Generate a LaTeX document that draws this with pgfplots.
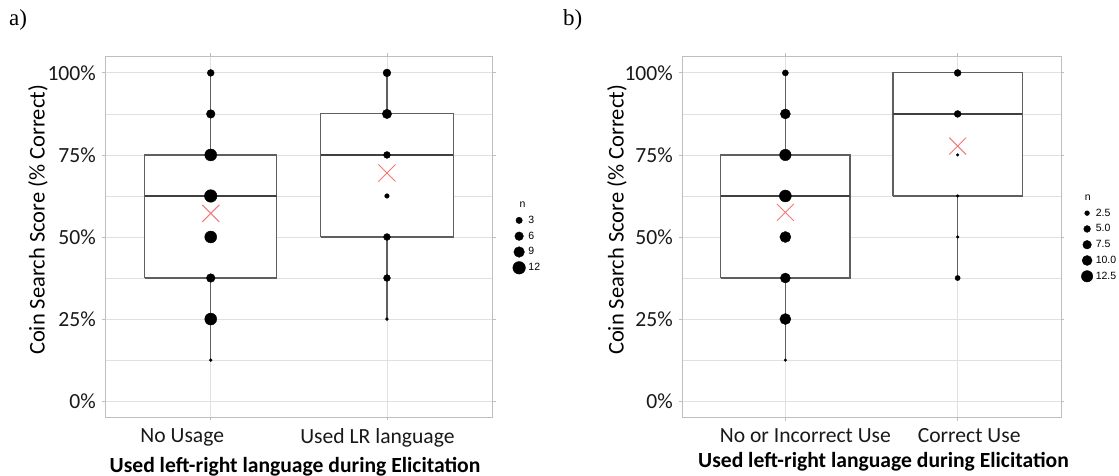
\documentclass[border=0pt]{standalone}
\usepackage{fontspec}
\setmainfont{Carlito}
\newfontfamily\legfont{Liberation Sans}
\newfontfamily\panfont{Liberation Serif}
\usepackage{pgfplots}
\pgfplotsset{compat=1.18}
\usepackage{pgfplotstable}

\definecolor{gridc}{RGB}{224,224,224}
\definecolor{borderc}{RGB}{190,190,190}
\definecolor{boxc}{RGB}{95,95,95}
\definecolor{meanc}{RGB}{244,120,120}

% panel a: points (x = group, y = score, n = count)
\pgfplotstableread{
x y n
1 12.5 1
1 25 11
1 37.5 6
1 50 11
1 62.5 12
1 75 11
1 87.5 6
1 100 4
2 25 1
2 37.5 4
2 50 4
2 62.5 2
2 75 4
2 87.5 7
2 100 5
}\dataA
\pgfplotstableread{
x y
1 57.2
2 69.5
}\meanA
% panel b
\pgfplotstableread{
x y n
1 12.5 1
1 25 12
1 37.5 10
1 50 12
1 62.5 14
1 75 13
1 87.5 10
1 100 4
2 37.5 3
2 50 1
2 62.5 1
2 75 1
2 87.5 5
2 100 5
}\dataB
\pgfplotstableread{
x y
1 57.5
2 77.7
}\meanB

\newcommand\bigfont{\fontsize{21.6bp}{25bp}\selectfont}
\newcommand\legsize{\legfont\fontsize{10.5bp}{12bp}\selectfont}

\pgfplotsset{
 panel/.style={
  scale only axis, height=361bp,
  xmin=0.4, xmax=2.6, ymin=-5, ymax=105,
  xtick={1,2}, ytick={0,25,50,75,100},
  minor ytick={12.5,37.5,62.5,87.5},
  yticklabels={0\%,25\%,50\%,75\%,100\%},
  grid=both,
  major grid style={draw=gridc, line width=0.9bp},
  minor grid style={draw=gridc, line width=0.6bp},
  axis line style={draw=borderc, line width=0.9bp},
  tick align=outside,
  major tick length=3bp, minor tick length=0bp,
  tick style={draw=borderc, line width=0.9bp},
  ticklabel style={font=\bigfont, text=black!90},
  yticklabel style={inner sep=0pt, anchor=east, xshift=-6bp},
  xticklabel style={inner sep=0pt, anchor=north, yshift=-8bp},
  clip=false,
  legend cell align=left,
  legend style={draw=none, fill=none, font=\legsize,
    row sep=3bp, column sep=1bp},
 },
 boxs/.style={draw=boxc, fill=white, line width=1.1bp, forget plot},
 whisk/.style={draw=boxc, line width=1.1bp, forget plot},
 med/.style={draw=black!75, line width=2bp, forget plot},
 meanmark/.style={only marks, mark=x, mark size=12bp, draw=meanc, forget plot,
  mark options={line width=1bp, draw=meanc}},
}

\begin{document}
\begin{tikzpicture}
\path[use as bounding box] (0,0) rectangle (1119bp,476bp);

% ---------- panel a ----------
\begin{axis}[panel, at={(105bp,58.5bp)}, anchor=south west, width=387.7bp,
  xticklabels={{No Usage\hspace*{57bp}},{Used LR language\hspace*{19bp}}},
  legend style={at={(1.038,0.609)}, anchor=north west}]
% group 1: whiskers, box, median
\addplot[whisk] coordinates {(1,12.5) (1,37.5)};
\addplot[whisk] coordinates {(1,75) (1,100)};
\addplot[boxs] coordinates {(0.625,37.5) (1.375,37.5) (1.375,75) (0.625,75) (0.625,37.5)};
\addplot[med] coordinates {(0.625,62.5) (1.375,62.5)};
% group 2
\addplot[whisk] coordinates {(2,25) (2,50)};
\addplot[whisk] coordinates {(2,87.5) (2,100)};
\addplot[boxs] coordinates {(1.625,50) (2.375,50) (2.375,87.5) (1.625,87.5) (1.625,50)};
\addplot[med] coordinates {(1.625,75) (2.375,75)};
% points sized by count
\addplot[scatter, only marks, mark=*, forget plot,
  scatter/use mapped color={draw=black, fill=black},
  visualization depends on={(-0.9+3.9*sqrt(\thisrow{n}))/2 \as \rad},
  scatter/@pre marker code/.append style={/tikz/mark size=\rad}]
  table[x=x, y=y] {\dataA};
\addplot[meanmark] table[x=x, y=y] {\meanA};
\addlegendimage{empty legend}\addlegendentry{\hspace*{-9bp}n}
\addlegendimage{only marks, mark=*, black, mark size=3.2bp}\addlegendentry{3}
\addlegendimage{only marks, mark=*, black, mark size=4.3bp}\addlegendentry{6}
\addlegendimage{only marks, mark=*, black, mark size=5.3bp}\addlegendentry{9}
\addlegendimage{only marks, mark=*, black, mark size=6.3bp}\addlegendentry{12}
\end{axis}

% ---------- panel b ----------
\begin{axis}[panel, at={(682bp,58.5bp)}, anchor=south west, width=379bp,
  xticklabels={{\hspace*{40bp}No or Incorrect Use},{\hspace*{23bp}Correct Use}},
  legend style={at={(1.038,0.629)}, anchor=north west}]
\addplot[whisk] coordinates {(1,12.5) (1,37.5)};
\addplot[whisk] coordinates {(1,75) (1,100)};
\addplot[boxs] coordinates {(0.625,37.5) (1.375,37.5) (1.375,75) (0.625,75) (0.625,37.5)};
\addplot[med] coordinates {(0.625,62.5) (1.375,62.5)};
\addplot[whisk] coordinates {(2,37.5) (2,62.5)};
\addplot[boxs] coordinates {(1.625,62.5) (2.375,62.5) (2.375,100) (1.625,100) (1.625,62.5)};
\addplot[med] coordinates {(1.625,87.5) (2.375,87.5)};
\addplot[scatter, only marks, mark=*, forget plot,
  scatter/use mapped color={draw=black, fill=black},
  visualization depends on={(-0.64+3.38*sqrt(\thisrow{n}))/2 \as \rad},
  scatter/@pre marker code/.append style={/tikz/mark size=\rad}]
  table[x=x, y=y] {\dataB};
\addplot[meanmark] table[x=x, y=y] {\meanB};
\addlegendimage{empty legend}\addlegendentry{\hspace*{-13bp}n}
\addlegendimage{only marks, mark=*, black, mark size=2.4bp}\addlegendentry{2.5}
\addlegendimage{only marks, mark=*, black, mark size=3.4bp}\addlegendentry{5.0}
\addlegendimage{only marks, mark=*, black, mark size=4.3bp}\addlegendentry{7.5}
\addlegendimage{only marks, mark=*, black, mark size=5.0bp}\addlegendentry{10.0}
\addlegendimage{only marks, mark=*, black, mark size=5.7bp}\addlegendentry{12.5}
\end{axis}

% ---------- titles ----------
\node[anchor=west, inner sep=0pt, font=\panfont\fontsize{23bp}{26bp}\selectfont] at (9bp,456bp) {a)};
\node[anchor=west, inner sep=0pt, font=\panfont\fontsize{23bp}{26bp}\selectfont] at (563bp,456bp) {b)};
\node[rotate=90, inner sep=0pt, font=\fontsize{22.5bp}{26bp}\selectfont] at (38bp,256bp) {Coin Search Score (\% Correct)};
\node[rotate=90, inner sep=0pt, font=\fontsize{22.5bp}{26bp}\selectfont] at (617bp,256bp) {Coin Search Score (\% Correct)};
\node[inner sep=0pt, font=\bigfont\bfseries] at (295bp,9bp) {Used left-right language during Elicitation};
\node[inner sep=0pt, font=\bigfont\bfseries] at (883.5bp,14.5bp) {Used left-right language during Elicitation};
\end{tikzpicture}
\end{document}
